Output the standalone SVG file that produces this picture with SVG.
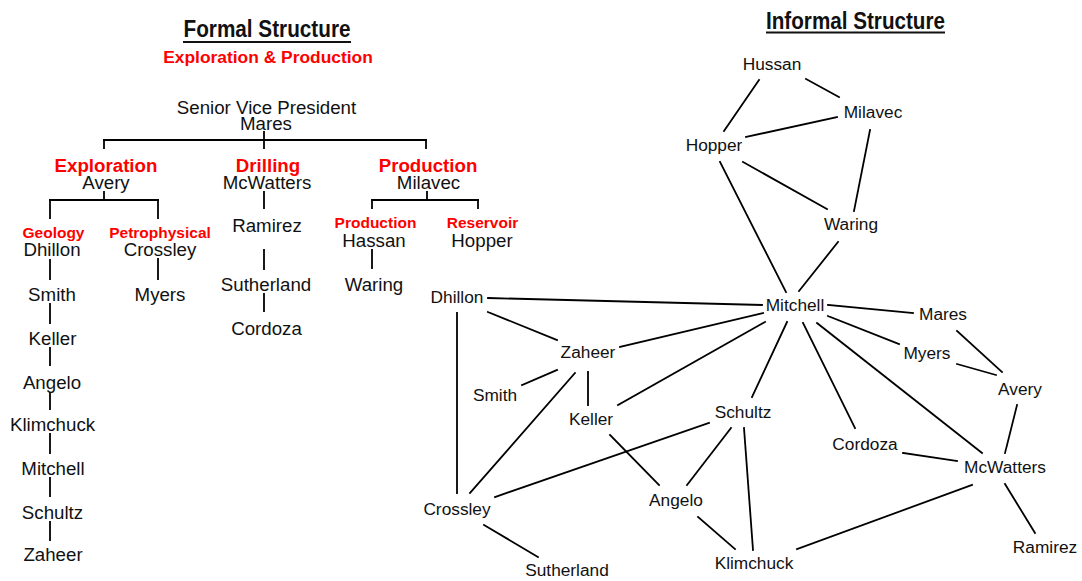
<svg xmlns="http://www.w3.org/2000/svg" width="1082" height="581" viewBox="0 0 1082 581">
<style>
text{font-family:"Liberation Sans",Arial,sans-serif;fill:#111;text-anchor:middle}
.t{font-weight:bold;font-size:23px}
.r{fill:#f00;font-weight:bold;font-size:18.7px}
.rs{fill:#f00;font-weight:bold;font-size:15.5px}
.f{font-size:18.7px}
.i{font-size:17.3px}
.c line{stroke:#000;stroke-width:1.8;stroke-linecap:square}
</style>
<rect width="1082" height="581" fill="#fff"/>
<g id="titles">
<text class="t" x="267" y="37" textLength="167" lengthAdjust="spacingAndGlyphs">Formal Structure</text>
<line x1="183" y1="42" x2="351" y2="42" stroke="#111" stroke-width="2"/>
<text class="r" x="268" y="63" style="font-size:17.4px">Exploration &amp; Production</text>
<text class="t" x="855.5" y="29.3" textLength="179" lengthAdjust="spacingAndGlyphs">Informal Structure</text>
<line x1="766" y1="32.5" x2="945" y2="32.5" stroke="#111" stroke-width="2"/>
</g>
<g class="c" id="formal-connectors">
<line x1="264" y1="132" x2="264" y2="148"/>
<line x1="104" y1="140" x2="426" y2="140"/>
<line x1="104" y1="140" x2="104" y2="148"/>
<line x1="426" y1="140" x2="426" y2="148"/>
<line x1="104" y1="192" x2="104" y2="200"/>
<line x1="50" y1="200" x2="158" y2="200"/>
<line x1="50" y1="200" x2="50" y2="218"/>
<line x1="158" y1="200" x2="158" y2="218"/>
<line x1="264" y1="192" x2="264" y2="208"/>
<line x1="264" y1="250" x2="264" y2="269"/>
<line x1="264" y1="294" x2="264" y2="311"/>
<line x1="427" y1="192" x2="427" y2="200"/>
<line x1="372" y1="200" x2="478" y2="200"/>
<line x1="372" y1="200" x2="372" y2="208"/>
<line x1="478" y1="200" x2="478" y2="208"/>
<line x1="372" y1="250" x2="372" y2="268"/>
<line x1="50" y1="260" x2="50" y2="279"/>
<line x1="50" y1="304" x2="50" y2="323"/>
<line x1="50" y1="348" x2="50" y2="365"/>
<line x1="50" y1="393" x2="50" y2="409"/>
<line x1="50" y1="434" x2="50" y2="453"/>
<line x1="50" y1="478" x2="50" y2="496"/>
<line x1="50" y1="522" x2="50" y2="540"/>
<line x1="158" y1="259" x2="158" y2="279"/>
</g>
<g id="formal-svp"><text class="f" x="266.5" y="114">Senior Vice President</text><text class="f" x="266" y="130">Mares</text></g>
<g id="formal-exploration"><text class="r" x="106" y="172">Exploration</text><text class="f" x="106" y="189">Avery</text></g>
<g id="formal-drilling"><text class="r" x="268" y="172">Drilling</text><text class="f" x="267" y="189">McWatters</text></g>
<g id="formal-production"><text class="r" x="428" y="172">Production</text><text class="f" x="428.5" y="189">Milavec</text></g>
<g id="formal-geology"><text class="rs" x="53.5" y="238">Geology</text><text class="f" x="52" y="256">Dhillon</text></g>
<g id="formal-petro"><text class="rs" x="160" y="238">Petrophysical</text><text class="f" x="160" y="256">Crossley</text></g>
<g id="formal-smith"><text class="f" x="52" y="300.5">Smith</text></g>
<g id="formal-keller"><text class="f" x="52.5" y="345">Keller</text></g>
<g id="formal-angelo"><text class="f" x="52" y="389">Angelo</text></g>
<g id="formal-klimchuck"><text class="f" x="52.5" y="431">Klimchuck</text></g>
<g id="formal-mitchell"><text class="f" x="53" y="475">Mitchell</text></g>
<g id="formal-schultz"><text class="f" x="52.5" y="519">Schultz</text></g>
<g id="formal-zaheer"><text class="f" x="53" y="561">Zaheer</text></g>
<g id="formal-myers"><text class="f" x="160" y="301">Myers</text></g>
<g id="formal-ramirez"><text class="f" x="267" y="231.5">Ramirez</text></g>
<g id="formal-sutherland"><text class="f" x="266" y="291">Sutherland</text></g>
<g id="formal-cordoza"><text class="f" x="266.5" y="335">Cordoza</text></g>
<g id="formal-hassan"><text class="rs" x="375.5" y="228">Production</text><text class="f" x="374" y="247">Hassan</text></g>
<g id="formal-hopper"><text class="rs" x="482.5" y="228">Reservoir</text><text class="f" x="482" y="247">Hopper</text></g>
<g id="formal-waring"><text class="f" x="374" y="291">Waring</text></g>

<g class="c" id="informal-connectors">
<line x1="759" y1="80" x2="724" y2="131"/>
<line x1="806" y1="79" x2="839" y2="97"/>
<line x1="837" y1="117" x2="746" y2="137"/>
<line x1="870" y1="130" x2="854" y2="211"/>
<line x1="743" y1="162" x2="827" y2="209"/>
<line x1="720" y1="162" x2="786" y2="292"/>
<line x1="838" y1="242" x2="799" y2="291"/>
<line x1="488" y1="298" x2="762" y2="305"/>
<line x1="488" y1="312" x2="557" y2="340"/>
<line x1="457" y1="313" x2="457" y2="493"/>
<line x1="620" y1="347" x2="763" y2="313"/>
<line x1="522" y1="385" x2="557" y2="370"/>
<line x1="575" y1="373" x2="470" y2="493"/>
<line x1="588" y1="372" x2="588" y2="405"/>
<line x1="618" y1="405" x2="765" y2="322"/>
<line x1="610" y1="435" x2="659" y2="485"/>
<line x1="787" y1="322" x2="752" y2="397"/>
<line x1="709" y1="423" x2="495" y2="497"/>
<line x1="731" y1="428" x2="687" y2="485"/>
<line x1="744" y1="428" x2="753" y2="550"/>
<line x1="484" y1="525" x2="538" y2="557"/>
<line x1="698" y1="517" x2="735" y2="549"/>
<line x1="797" y1="549" x2="972" y2="485"/>
<line x1="828" y1="305" x2="913" y2="313"/>
<line x1="828" y1="316" x2="899" y2="344"/>
<line x1="957" y1="331" x2="1002" y2="372"/>
<line x1="957" y1="364" x2="996" y2="375"/>
<line x1="1017" y1="405" x2="1005" y2="453"/>
<line x1="803" y1="323" x2="855" y2="428"/>
<line x1="817" y1="323" x2="982" y2="453"/>
<line x1="903" y1="453" x2="957" y2="461"/>
<line x1="1005" y1="484" x2="1035" y2="533"/>
</g>
<g id="n-hussan"><text class="i" x="772" y="69.5">Hussan</text></g>
<g id="n-milavec"><text class="i" x="873" y="118">Milavec</text></g>
<g id="n-hopper"><text class="i" x="714" y="151">Hopper</text></g>
<g id="n-waring"><text class="i" x="851" y="230">Waring</text></g>
<g id="n-mitchell"><text class="i" x="795" y="310.5">Mitchell</text></g>
<g id="n-dhillon"><text class="i" x="457" y="303">Dhillon</text></g>
<g id="n-zaheer"><text class="i" x="588" y="358">Zaheer</text></g>
<g id="n-smith"><text class="i" x="495" y="400.5">Smith</text></g>
<g id="n-keller"><text class="i" x="591" y="424.5">Keller</text></g>
<g id="n-schultz"><text class="i" x="743" y="418">Schultz</text></g>
<g id="n-crossley"><text class="i" x="457" y="514.5">Crossley</text></g>
<g id="n-angelo"><text class="i" x="676" y="505.5">Angelo</text></g>
<g id="n-sutherland"><text class="i" x="567" y="575.5">Sutherland</text></g>
<g id="n-klimchuck"><text class="i" x="754" y="568.5">Klimchuck</text></g>
<g id="n-mares"><text class="i" x="943" y="320">Mares</text></g>
<g id="n-myers"><text class="i" x="927" y="359">Myers</text></g>
<g id="n-avery"><text class="i" x="1020" y="394.5">Avery</text></g>
<g id="n-cordoza"><text class="i" x="865" y="449.5">Cordoza</text></g>
<g id="n-mcwatters"><text class="i" x="1005" y="473">McWatters</text></g>
<g id="n-ramirez"><text class="i" x="1045" y="553">Ramirez</text></g>
</svg>
